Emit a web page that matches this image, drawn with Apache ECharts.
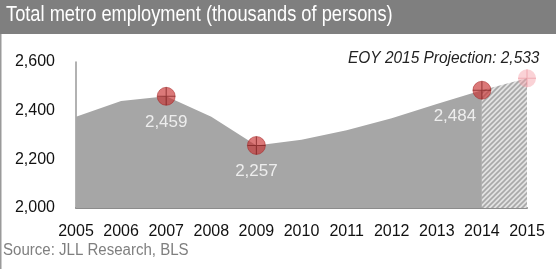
<!DOCTYPE html>
<html><head><meta charset="utf-8">
<script src="https://cdn.jsdelivr.net/npm/echarts@6/dist/echarts.min.js"></script>
<style>html,body{margin:0;padding:0;background:#fff;}#c{width:556px;height:269px;}</style>
</head><body><div id="c"></div>
<script>
var years = ['2005','2006','2007','2008','2009','2010','2011','2012','2013','2014','2015'];
var actual = [2375, 2440, 2459, 2375, 2257, 2280, 2320, 2369, 2427, 2484, null];
var projection = [null, null, null, null, null, null, null, null, null, 2484, 2533];
var highlightIdx = [2, 4, 9];
var projIdx = 10;
var yTicks = [2000, 2200, 2400, 2600];

var pc = document.createElement('canvas');
pc.width = 5; pc.height = 5;
var g = pc.getContext('2d');
g.fillStyle = '#e2e2e2'; g.fillRect(0,0,5,5);
g.strokeStyle = '#a8a8a8'; g.lineWidth = 1.6;
g.beginPath();
g.moveTo(-1,6); g.lineTo(6,-1);
g.moveTo(-1,1); g.lineTo(1,-1);
g.moveTo(4,6); g.lineTo(6,4);
g.stroke();

var fmt = function(v){ return String(v).replace(/\B(?=(\d{3})+(?!\d))/g, ','); };

var hiData = highlightIdx.map(function(i){ return [years[i], actual[i]]; });
var projPt = [[years[projIdx], projection[projIdx]]];
var crossPath = 'path://M0,9.4L20,9.4L20,10.6L0,10.6Z M9.4,0L10.6,0L10.6,20L9.4,20Z';

var chart = echarts.init(document.getElementById('c'), null, {renderer:'canvas'});
chart.setOption({
  animation: false,
  backgroundColor: '#fff',
  grid: {left: 76, right: 29, top: 62, bottom: 61},
  graphic: [
    {type:'rect', left:0, top:0, shape:{width:556, height:34}, style:{fill:'#7f7f7f'}},
    {type:'rect', left:0, top:34, shape:{width:1.5, height:235}, style:{fill:'#9a9a9a'}},
    {type:'text', x:6, y:4, scaleX:0.83, style:{text:'Total metro employment (thousands of persons)', fill:'#fff', font:'22px "Liberation Sans", Arial'}},
    {type:'text', x:348, y:51, scaleX:0.965, style:{text:'EOY 2015 Projection: 2,533', fill:'#222', font:'italic 16px "Liberation Sans", Arial'}},
    {type:'text', x:3, y:243, scaleX:0.94, style:{text:'Source: JLL Research, BLS', fill:'#7f7f7f', font:'16px "Liberation Sans", Arial'}}
  ],
  xAxis: {
    type:'category', data: years, boundaryGap:false,
    axisLine:{show:true, lineStyle:{color:'#8c8c8c', width:2}},
    axisTick:{show:false},
    axisLabel:{color:'#111', fontSize:16, fontFamily:'Liberation Sans', margin:16, interval:0},
    splitLine:{show:false}
  },
  yAxis: {
    type:'value', min:2000, max:2600, interval:200,
    axisLine:{show:true, lineStyle:{color:'#999', width:1.5}},
    axisTick:{show:false},
    splitLine:{show:false},
    axisLabel:{color:'#111', fontSize:16, fontFamily:'Liberation Sans', margin:21, formatter:function(v){return fmt(v);}}
  },
  series: [
    {type:'line', data: actual, symbol:'none', lineStyle:{width:0}, areaStyle:{color:'#a6a6a6', opacity:1}, z:1},
    {type:'line', data: projection, symbol:'none', lineStyle:{width:0}, areaStyle:{color:{image: pc, repeat:'repeat'}, opacity:1}, z:1},
    {type:'scatter', data: hiData, symbol:'circle', symbolSize:18, itemStyle:{color:'rgba(200,50,50,0.82)', borderColor:'rgba(160,30,30,0.6)', borderWidth:1}, z:3,
      label:{show:true, position:'bottom', distance:8, color:'#fff', fontSize:17, fontFamily:'Liberation Sans',
        formatter:function(p){return fmt(p.value[1]);}},
      labelLayout: function(p){ if (p.dataIndex === 2) { return {dx:-27, dy:0}; } return {}; }
    },
    {type:'scatter', data: hiData, symbol: crossPath, symbolSize:18, itemStyle:{color:'rgba(110,20,20,0.75)'}, z:4, silent:true},
    {type:'scatter', data: projPt, symbol:'circle', symbolSize:18, itemStyle:{color:'rgba(245,160,170,0.6)'}, z:3},
    {type:'scatter', data: projPt, symbol: crossPath, symbolSize:18, itemStyle:{color:'rgba(230,130,140,0.6)'}, z:4, silent:true}
  ]
});
</script></body></html>
